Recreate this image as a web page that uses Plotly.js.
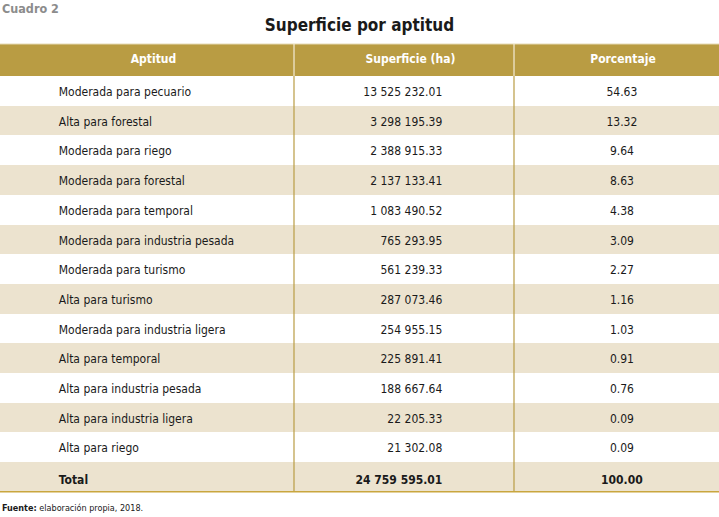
<!DOCTYPE html>
<html>
<head>
<meta charset="utf-8">
<script src="https://cdn.plot.ly/plotly-3.0.1.min.js"></script>
<style>html,body{margin:0;padding:0;background:#fff;}#chart{width:719px;height:517px;}</style>
</head>
<body>
<div id="chart"></div>
<script>
var aptitud = ["Moderada para pecuario", "Alta para forestal", "Moderada para riego", "Moderada para forestal", "Moderada para temporal", "Moderada para industria pesada", "Moderada para turismo", "Alta para turismo", "Moderada para industria ligera", "Alta para temporal", "Alta para industria pesada", "Alta para industria ligera", "Alta para riego"];
var superficie = [13525232.01, 3298195.39, 2388915.33, 2137133.41, 1083490.52, 765293.95, 561239.33, 287073.46, 254955.15, 225891.41, 188667.64, 22205.33, 21302.08];
var porcentaje = [54.63, 13.32, 9.64, 8.63, 4.38, 3.09, 2.27, 1.16, 1.03, 0.91, 0.76, 0.09, 0.09];
var totalLabel = "Total";
var totalSuperficie = 24759595.01;
var totalPorcentaje = 100.00;
var headers = ["Aptitud", "Superficie (ha)", "Porcentaje"];

var FONT = "'Liberation Sans Narrow', 'DejaVu Sans Condensed', 'Noto Sans', sans-serif";
var GOLD = "#b99c43";
var BAND = "#ece3cf";
var EM = "\u2003", EN = "\u2002", THIN = "\u2009";
var CLEAR = "rgba(0,0,0,0)";

function fmt(v) {
  var s = v.toFixed(2).split(".");
  var intPart = s[0].replace(/\B(?=(\d{3})+(?!\d))/g, " ");
  return intPart + "." + s[1];
}

var LEAD = EM + EM + EM + EM + EN + THIN;
var TRAIL = EM + EM + EM + EM + EM + EN + THIN + THIN;
var col1 = aptitud.map(function(a){ return LEAD + a; });
col1.push(LEAD + "<b>" + totalLabel + "</b>");
var col2 = superficie.map(function(v){ return fmt(v) + TRAIL; });
col2.push("<b>" + fmt(totalSuperficie) + "</b>" + TRAIL);
var col3 = porcentaje.map(function(v){ return EM + v.toFixed(2); });
col3.push(EM + "<b>" + totalPorcentaje.toFixed(2) + "</b>");

var n = col1.length;
var fills = [], blanks = [], clears = [];
for (var i = 0; i < n; i++) { fills.push(i % 2 === 0 ? "#ffffff" : BAND); blanks.push(""); clears.push(CLEAR); }

var W = 719, H = 517;
var topY = 44, headH = 32, rowH = 29.7, textShift = 3;
var bottomY = topY + headH + n * rowH;
var xa = 294, xb = 514;
var widths = [xa, xb - xa, W - xb];

// background table: header with text, banded rows
var bgTable = {
  type: "table",
  domain: {x: [0, 1], y: [(H - bottomY) / H, (H - topY) / H]},
  columnwidth: widths,
  header: {
    values: headers.map(function(h){ return EM + THIN + "<b>" + h + "</b>"; }),
    align: "center",
    height: headH,
    fill: {color: GOLD},
    line: {width: 0, color: GOLD},
    font: {family: FONT, size: 12, color: "#ffffff"}
  },
  cells: {
    values: [blanks, blanks, blanks],
    height: rowH,
    fill: {color: [fills, fills, fills]},
    line: {width: 0, color: "#ffffff"},
    font: {family: FONT, size: 12, color: "#1a1a1a"}
  }
};

// text table: same rows, nudged down so the text sits like the reference
var textTable = {
  type: "table",
  domain: {x: [0, 1], y: [Math.max(0, (H - bottomY - textShift) / H), (H - topY) / H]},
  columnwidth: widths,
  header: {
    values: ["", "", ""],
    height: headH + textShift,
    fill: {color: CLEAR},
    line: {width: 0, color: CLEAR},
    font: {family: FONT, size: 12, color: CLEAR}
  },
  cells: {
    values: [col1, col2, col3],
    align: ["left", "right", "center"],
    height: rowH,
    fill: {color: [clears, clears, clears]},
    line: {width: 0, color: CLEAR},
    font: {family: FONT, size: 12, color: "#1a1a1a"}
  }
};

function px(x){ return x / W; }
function py(y){ return (H - y) / H; }

var shapes = [
  {type: "line", layer: "above", xref: "paper", yref: "paper", x0: 0, x1: 1, y0: py(topY), y1: py(topY), line: {color: "#e6dab5", width: 1}},
  {type: "line", layer: "above", xref: "paper", yref: "paper", x0: px(xa), x1: px(xa), y0: py(topY), y1: py(topY + headH), line: {color: "#f3ecd8", width: 1.2}},
  {type: "line", layer: "above", xref: "paper", yref: "paper", x0: px(xb), x1: px(xb), y0: py(topY), y1: py(topY + headH), line: {color: "#f3ecd8", width: 1.2}},
  {type: "line", layer: "above", xref: "paper", yref: "paper", x0: px(xa), x1: px(xa), y0: py(topY + headH), y1: py(bottomY), line: {color: GOLD, width: 1.2}},
  {type: "line", layer: "above", xref: "paper", yref: "paper", x0: px(xb), x1: px(xb), y0: py(topY + headH), y1: py(bottomY), line: {color: GOLD, width: 1.2}},
  {type: "line", layer: "above", xref: "paper", yref: "paper", x0: 0, x1: 1, y0: py(bottomY), y1: py(bottomY), line: {color: "#c9a63e", width: 1.6}}
];

var layout = {
  width: W, height: H,
  margin: {l: 0, r: 0, t: 0, b: 0},
  paper_bgcolor: "#ffffff",
  showlegend: false,
  title: {
    text: "<b>Superficie por aptitud</b>",
    font: {family: FONT, size: 17, color: "#1a1a1a"},
    x: 0.5, xanchor: "center", xref: "paper",
    y: py(25), yanchor: "middle", yref: "container"
  },
  shapes: shapes,
  annotations: [
    {text: "<b>Cuadro 2</b>", xref: "paper", yref: "paper", x: 0, y: py(8), xanchor: "left", yanchor: "middle", showarrow: false, font: {family: FONT, size: 12.5, color: "#8c8c8c"}},
    {text: "<b>Fuente:</b> elaboración propia, 2018.", xref: "paper", yref: "paper", x: 0, y: py(508), xanchor: "left", yanchor: "middle", showarrow: false, font: {family: FONT, size: 9, color: "#1a1a1a"}}
  ]
};

Plotly.newPlot("chart", [bgTable, textTable], layout, {displayModeBar: false, staticPlot: true});
</script>
</body>
</html>
